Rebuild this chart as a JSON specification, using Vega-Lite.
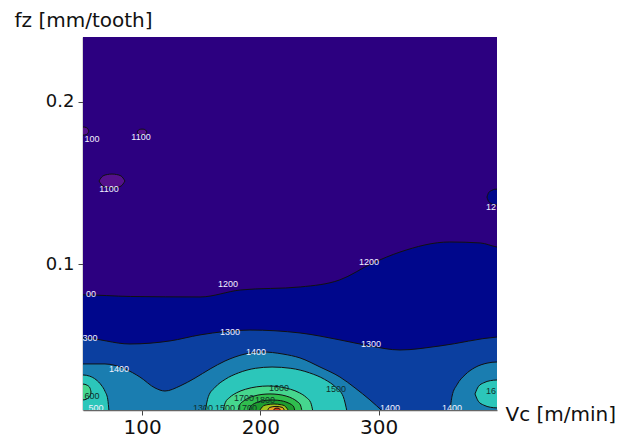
{
  "$schema": "https://vega.github.io/schema/vega-lite/v6.json",
  "width": 414,
  "height": 373,
  "autosize": {"type": "none"},
  "padding": {"left": 83, "top": 37, "right": 131, "bottom": 31},
  "background": "white",
  "view": {"stroke": null},
  "config": {
    "font": "DejaVu Sans",
    "axis": {
      "grid": false,
      "domainColor": "#666666",
      "domainWidth": 1.5,
      "tickColor": "#444444",
      "tickSize": 5,
      "labelFont": "DejaVu Sans",
      "labelFontSize": 20,
      "labelColor": "#111111",
      "titleFont": "DejaVu Sans",
      "titleFontSize": 20,
      "titleFontWeight": "normal",
      "titleColor": "#111111"
    }
  },
  "datasets": {
    "regions": [
      {"lvl": "1100", "part": "a", "vc": 48, "fz": 0.241, "fz2": 0.009},
      {"lvl": "1100", "part": "a", "vc": 402, "fz": 0.241, "fz2": 0.009},

      {"lvl": "1000", "part": "a", "vc": 48, "fz": 0.1845, "fz2": 0.1795},
      {"lvl": "1000", "part": "a", "vc": 50, "fz": 0.1845, "fz2": 0.1795},
      {"lvl": "1000", "part": "a", "vc": 52.5, "fz": 0.1842, "fz2": 0.1798},
      {"lvl": "1000", "part": "a", "vc": 54, "fz": 0.1835, "fz2": 0.1805},
      {"lvl": "1000", "part": "a", "vc": 55, "fz": 0.182, "fz2": 0.182},
      {"lvl": "1000", "part": "b", "vc": 95.7, "fz": 0.1814, "fz2": 0.1814},
      {"lvl": "1000", "part": "b", "vc": 97.0, "fz": 0.1827, "fz2": 0.1801},
      {"lvl": "1000", "part": "b", "vc": 98.4, "fz": 0.1831, "fz2": 0.1797},
      {"lvl": "1000", "part": "b", "vc": 99.9, "fz": 0.1832, "fz2": 0.1796},
      {"lvl": "1000", "part": "b", "vc": 101.4, "fz": 0.1831, "fz2": 0.1797},
      {"lvl": "1000", "part": "b", "vc": 102.8, "fz": 0.1827, "fz2": 0.1801},
      {"lvl": "1000", "part": "b", "vc": 104.1, "fz": 0.1814, "fz2": 0.1814},
      {"lvl": "1000", "part": "c", "vc": 63.5, "fz": 0.1512, "fz2": 0.1512},
      {"lvl": "1000", "part": "c", "vc": 66.8, "fz": 0.1543, "fz2": 0.1481},
      {"lvl": "1000", "part": "c", "vc": 70.6, "fz": 0.1552, "fz2": 0.1472},
      {"lvl": "1000", "part": "c", "vc": 74.5, "fz": 0.1555, "fz2": 0.1469},
      {"lvl": "1000", "part": "c", "vc": 78.4, "fz": 0.1552, "fz2": 0.1472},
      {"lvl": "1000", "part": "c", "vc": 82.2, "fz": 0.1543, "fz2": 0.1481},
      {"lvl": "1000", "part": "c", "vc": 85.5, "fz": 0.1512, "fz2": 0.1512},

      {"lvl": "1200", "part": "m", "vc": 48, "fz": 0.081, "fz2": 0.009},
      {"lvl": "1200", "part": "m", "vc": 50, "fz": 0.081, "fz2": 0.009},
      {"lvl": "1200", "part": "m", "vc": 90, "fz": 0.080, "fz2": 0.009},
      {"lvl": "1200", "part": "m", "vc": 149, "fz": 0.0797, "fz2": 0.009},
      {"lvl": "1200", "part": "m", "vc": 183, "fz": 0.084, "fz2": 0.009},
      {"lvl": "1200", "part": "m", "vc": 234, "fz": 0.0859, "fz2": 0.009},
      {"lvl": "1200", "part": "m", "vc": 267, "fz": 0.0902, "fz2": 0.009},
      {"lvl": "1200", "part": "m", "vc": 295, "fz": 0.1006, "fz2": 0.009},
      {"lvl": "1200", "part": "m", "vc": 318, "fz": 0.1074, "fz2": 0.009},
      {"lvl": "1200", "part": "m", "vc": 360, "fz": 0.1136, "fz2": 0.009},
      {"lvl": "1200", "part": "m", "vc": 386, "fz": 0.113, "fz2": 0.009},
      {"lvl": "1200", "part": "m", "vc": 400, "fz": 0.1105, "fz2": 0.009},
      {"lvl": "1200", "part": "m", "vc": 402, "fz": 0.1103, "fz2": 0.009},
      {"lvl": "1200", "part": "t", "vc": 391.5, "fz": 0.1413, "fz2": 0.1413},
      {"lvl": "1200", "part": "t", "vc": 393, "fz": 0.1441, "fz2": 0.1385},
      {"lvl": "1200", "part": "t", "vc": 395.8, "fz": 0.1455, "fz2": 0.1371},
      {"lvl": "1200", "part": "t", "vc": 398, "fz": 0.1461, "fz2": 0.1365},
      {"lvl": "1200", "part": "t", "vc": 400, "fz": 0.1462, "fz2": 0.1364},
      {"lvl": "1200", "part": "t", "vc": 402, "fz": 0.1462, "fz2": 0.1364},

      {"lvl": "1300", "part": "m", "vc": 48, "fz": 0.0544, "fz2": 0.009},
      {"lvl": "1300", "part": "m", "vc": 50, "fz": 0.0544, "fz2": 0.009},
      {"lvl": "1300", "part": "m", "vc": 89.7, "fz": 0.0507, "fz2": 0.009},
      {"lvl": "1300", "part": "m", "vc": 123.6, "fz": 0.0526, "fz2": 0.009},
      {"lvl": "1300", "part": "m", "vc": 148.9, "fz": 0.0563, "fz2": 0.009},
      {"lvl": "1300", "part": "m", "vc": 191.2, "fz": 0.0593, "fz2": 0.009},
      {"lvl": "1300", "part": "m", "vc": 233.5, "fz": 0.0575, "fz2": 0.009},
      {"lvl": "1300", "part": "m", "vc": 267.3, "fz": 0.0532, "fz2": 0.009},
      {"lvl": "1300", "part": "m", "vc": 292.6, "fz": 0.0495, "fz2": 0.009},
      {"lvl": "1300", "part": "m", "vc": 318, "fz": 0.047, "fz2": 0.009},
      {"lvl": "1300", "part": "m", "vc": 351.8, "fz": 0.0495, "fz2": 0.009},
      {"lvl": "1300", "part": "m", "vc": 400, "fz": 0.055, "fz2": 0.009},
      {"lvl": "1300", "part": "m", "vc": 402, "fz": 0.0551, "fz2": 0.009},

      {"lvl": "1400", "part": "m", "vc": 48, "fz": 0.0384, "fz2": 0.009},
      {"lvl": "1400", "part": "m", "vc": 50, "fz": 0.0384, "fz2": 0.009},
      {"lvl": "1400", "part": "m", "vc": 68.6, "fz": 0.0384, "fz2": 0.009},
      {"lvl": "1400", "part": "m", "vc": 85.5, "fz": 0.0353, "fz2": 0.009},
      {"lvl": "1400", "part": "m", "vc": 98.2, "fz": 0.0303, "fz2": 0.009},
      {"lvl": "1400", "part": "m", "vc": 110.9, "fz": 0.0236, "fz2": 0.009},
      {"lvl": "1400", "part": "m", "vc": 119.3, "fz": 0.0217, "fz2": 0.009},
      {"lvl": "1400", "part": "m", "vc": 132, "fz": 0.0248, "fz2": 0.009},
      {"lvl": "1400", "part": "m", "vc": 144.7, "fz": 0.0297, "fz2": 0.009},
      {"lvl": "1400", "part": "m", "vc": 157.4, "fz": 0.0353, "fz2": 0.009},
      {"lvl": "1400", "part": "m", "vc": 170, "fz": 0.0402, "fz2": 0.009},
      {"lvl": "1400", "part": "m", "vc": 186.9, "fz": 0.0445, "fz2": 0.009},
      {"lvl": "1400", "part": "m", "vc": 201.3, "fz": 0.0458, "fz2": 0.009},
      {"lvl": "1400", "part": "m", "vc": 219.1, "fz": 0.0445, "fz2": 0.009},
      {"lvl": "1400", "part": "m", "vc": 233.5, "fz": 0.0421, "fz2": 0.009},
      {"lvl": "1400", "part": "m", "vc": 250.4, "fz": 0.0365, "fz2": 0.009},
      {"lvl": "1400", "part": "m", "vc": 267.3, "fz": 0.0303, "fz2": 0.009},
      {"lvl": "1400", "part": "m", "vc": 280, "fz": 0.0236, "fz2": 0.009},
      {"lvl": "1400", "part": "m", "vc": 292.6, "fz": 0.0162, "fz2": 0.009},
      {"lvl": "1400", "part": "m", "vc": 303.6, "fz": 0.009, "fz2": 0.009},
      {"lvl": "1400", "part": "r", "vc": 360.3, "fz": 0.009, "fz2": 0.009},
      {"lvl": "1400", "part": "r", "vc": 362, "fz": 0.0186, "fz2": 0.009},
      {"lvl": "1400", "part": "r", "vc": 366.2, "fz": 0.0256, "fz2": 0.009},
      {"lvl": "1400", "part": "r", "vc": 373, "fz": 0.0317, "fz2": 0.009},
      {"lvl": "1400", "part": "r", "vc": 381.4, "fz": 0.0362, "fz2": 0.009},
      {"lvl": "1400", "part": "r", "vc": 391.6, "fz": 0.0389, "fz2": 0.009},
      {"lvl": "1400", "part": "r", "vc": 400, "fz": 0.0396, "fz2": 0.009},
      {"lvl": "1400", "part": "r", "vc": 402, "fz": 0.0396, "fz2": 0.009},

      {"lvl": "1500", "part": "c", "vc": 153.2, "fz": 0.009, "fz2": 0.009},
      {"lvl": "1500", "part": "c", "vc": 156, "fz": 0.0183, "fz2": 0.009},
      {"lvl": "1500", "part": "c", "vc": 161.7, "fz": 0.024, "fz2": 0.009},
      {"lvl": "1500", "part": "c", "vc": 170.2, "fz": 0.0289, "fz2": 0.009},
      {"lvl": "1500", "part": "c", "vc": 181.5, "fz": 0.0329, "fz2": 0.009},
      {"lvl": "1500", "part": "c", "vc": 195.7, "fz": 0.0357, "fz2": 0.009},
      {"lvl": "1500", "part": "c", "vc": 209.8, "fz": 0.0365, "fz2": 0.009},
      {"lvl": "1500", "part": "c", "vc": 225.7, "fz": 0.0357, "fz2": 0.009},
      {"lvl": "1500", "part": "c", "vc": 241.5, "fz": 0.0329, "fz2": 0.009},
      {"lvl": "1500", "part": "c", "vc": 254.2, "fz": 0.0289, "fz2": 0.009},
      {"lvl": "1500", "part": "c", "vc": 263.7, "fz": 0.024, "fz2": 0.009},
      {"lvl": "1500", "part": "c", "vc": 270, "fz": 0.0183, "fz2": 0.009},
      {"lvl": "1500", "part": "c", "vc": 273.2, "fz": 0.009, "fz2": 0.009},
      {"lvl": "1500", "part": "l", "vc": 48, "fz": 0.0316, "fz2": 0.009},
      {"lvl": "1500", "part": "l", "vc": 50, "fz": 0.0316, "fz2": 0.009},
      {"lvl": "1500", "part": "l", "vc": 55.5, "fz": 0.0309, "fz2": 0.009},
      {"lvl": "1500", "part": "l", "vc": 61, "fz": 0.0287, "fz2": 0.009},
      {"lvl": "1500", "part": "l", "vc": 65.4, "fz": 0.0254, "fz2": 0.009},
      {"lvl": "1500", "part": "l", "vc": 68.7, "fz": 0.0214, "fz2": 0.009},
      {"lvl": "1500", "part": "l", "vc": 70.9, "fz": 0.0167, "fz2": 0.009},
      {"lvl": "1500", "part": "l", "vc": 72, "fz": 0.009, "fz2": 0.009},
      {"lvl": "1500", "part": "r", "vc": 381.4, "fz": 0.0199, "fz2": 0.0199},
      {"lvl": "1500", "part": "r", "vc": 384.2, "fz": 0.0244, "fz2": 0.0154},
      {"lvl": "1500", "part": "r", "vc": 388.8, "fz": 0.0268, "fz2": 0.013},
      {"lvl": "1500", "part": "r", "vc": 394.4, "fz": 0.0281, "fz2": 0.0117},
      {"lvl": "1500", "part": "r", "vc": 400, "fz": 0.0285, "fz2": 0.0113},
      {"lvl": "1500", "part": "r", "vc": 402, "fz": 0.0285, "fz2": 0.0113},

      {"lvl": "1600", "part": "c", "vc": 168.4, "fz": 0.009, "fz2": 0.009},
      {"lvl": "1600", "part": "c", "vc": 170.3, "fz": 0.0146, "fz2": 0.009},
      {"lvl": "1600", "part": "c", "vc": 174.1, "fz": 0.0178, "fz2": 0.009},
      {"lvl": "1600", "part": "c", "vc": 179.8, "fz": 0.0206, "fz2": 0.009},
      {"lvl": "1600", "part": "c", "vc": 187.4, "fz": 0.0228, "fz2": 0.009},
      {"lvl": "1600", "part": "c", "vc": 196.9, "fz": 0.0243, "fz2": 0.009},
      {"lvl": "1600", "part": "c", "vc": 206.4, "fz": 0.0248, "fz2": 0.009},
      {"lvl": "1600", "part": "c", "vc": 215.9, "fz": 0.0243, "fz2": 0.009},
      {"lvl": "1600", "part": "c", "vc": 225.4, "fz": 0.0228, "fz2": 0.009},
      {"lvl": "1600", "part": "c", "vc": 233, "fz": 0.0206, "fz2": 0.009},
      {"lvl": "1600", "part": "c", "vc": 238.7, "fz": 0.0178, "fz2": 0.009},
      {"lvl": "1600", "part": "c", "vc": 242.5, "fz": 0.0146, "fz2": 0.009},
      {"lvl": "1600", "part": "c", "vc": 244.4, "fz": 0.009, "fz2": 0.009},
      {"lvl": "1600", "part": "l", "vc": 48, "fz": 0.026, "fz2": 0.0162},
      {"lvl": "1600", "part": "l", "vc": 50, "fz": 0.026, "fz2": 0.0162},
      {"lvl": "1600", "part": "l", "vc": 53.4, "fz": 0.0253, "fz2": 0.0169},
      {"lvl": "1600", "part": "l", "vc": 55.8, "fz": 0.0237, "fz2": 0.0185},
      {"lvl": "1600", "part": "l", "vc": 56.8, "fz": 0.0211, "fz2": 0.0211},

      {"lvl": "1700", "part": "c", "vc": 181, "fz": 0.009, "fz2": 0.009},
      {"lvl": "1700", "part": "c", "vc": 182.4, "fz": 0.0131, "fz2": 0.009},
      {"lvl": "1700", "part": "c", "vc": 185.1, "fz": 0.0152, "fz2": 0.009},
      {"lvl": "1700", "part": "c", "vc": 189.1, "fz": 0.0171, "fz2": 0.009},
      {"lvl": "1700", "part": "c", "vc": 194.6, "fz": 0.0186, "fz2": 0.009},
      {"lvl": "1700", "part": "c", "vc": 201.3, "fz": 0.0196, "fz2": 0.009},
      {"lvl": "1700", "part": "c", "vc": 208.1, "fz": 0.0199, "fz2": 0.009},
      {"lvl": "1700", "part": "c", "vc": 214.9, "fz": 0.0196, "fz2": 0.009},
      {"lvl": "1700", "part": "c", "vc": 221.7, "fz": 0.0186, "fz2": 0.009},
      {"lvl": "1700", "part": "c", "vc": 227.1, "fz": 0.0171, "fz2": 0.009},
      {"lvl": "1700", "part": "c", "vc": 231.1, "fz": 0.0152, "fz2": 0.009},
      {"lvl": "1700", "part": "c", "vc": 233.8, "fz": 0.0131, "fz2": 0.009},
      {"lvl": "1700", "part": "c", "vc": 235.2, "fz": 0.009, "fz2": 0.009},

      {"lvl": "1800", "part": "c", "vc": 190.4, "fz": 0.009, "fz2": 0.009},
      {"lvl": "1800", "part": "c", "vc": 191.4, "fz": 0.0119, "fz2": 0.009},
      {"lvl": "1800", "part": "c", "vc": 193.3, "fz": 0.0133, "fz2": 0.009},
      {"lvl": "1800", "part": "c", "vc": 196.2, "fz": 0.0144, "fz2": 0.009},
      {"lvl": "1800", "part": "c", "vc": 200.1, "fz": 0.0154, "fz2": 0.009},
      {"lvl": "1800", "part": "c", "vc": 205, "fz": 0.016, "fz2": 0.009},
      {"lvl": "1800", "part": "c", "vc": 209.8, "fz": 0.0162, "fz2": 0.009},
      {"lvl": "1800", "part": "c", "vc": 214.7, "fz": 0.016, "fz2": 0.009},
      {"lvl": "1800", "part": "c", "vc": 219.5, "fz": 0.0154, "fz2": 0.009},
      {"lvl": "1800", "part": "c", "vc": 223.4, "fz": 0.0144, "fz2": 0.009},
      {"lvl": "1800", "part": "c", "vc": 226.3, "fz": 0.0133, "fz2": 0.009},
      {"lvl": "1800", "part": "c", "vc": 228.2, "fz": 0.0119, "fz2": 0.009},
      {"lvl": "1800", "part": "c", "vc": 229.2, "fz": 0.009, "fz2": 0.009},

      {"lvl": "1900", "part": "c", "vc": 198.8, "fz": 0.009, "fz2": 0.009},
      {"lvl": "1900", "part": "c", "vc": 202.6, "fz": 0.0126, "fz2": 0.009},
      {"lvl": "1900", "part": "c", "vc": 205.2, "fz": 0.0132, "fz2": 0.009},
      {"lvl": "1900", "part": "c", "vc": 211.5, "fz": 0.0137, "fz2": 0.009},
      {"lvl": "1900", "part": "c", "vc": 217.8, "fz": 0.0132, "fz2": 0.009},
      {"lvl": "1900", "part": "c", "vc": 220.4, "fz": 0.0126, "fz2": 0.009},
      {"lvl": "1900", "part": "c", "vc": 224.2, "fz": 0.009, "fz2": 0.009},

      {"lvl": "2000", "part": "c", "vc": 205.6, "fz": 0.009, "fz2": 0.009},
      {"lvl": "2000", "part": "c", "vc": 207.9, "fz": 0.0116, "fz2": 0.009},
      {"lvl": "2000", "part": "c", "vc": 213.2, "fz": 0.0122, "fz2": 0.009},
      {"lvl": "2000", "part": "c", "vc": 218.5, "fz": 0.0116, "fz2": 0.009},
      {"lvl": "2000", "part": "c", "vc": 220.8, "fz": 0.009, "fz2": 0.009},

      {"lvl": "2100", "part": "c", "vc": 210.6, "fz": 0.009, "fz2": 0.009},
      {"lvl": "2100", "part": "c", "vc": 212.3, "fz": 0.011, "fz2": 0.009},
      {"lvl": "2100", "part": "c", "vc": 214, "fz": 0.0112, "fz2": 0.009},
      {"lvl": "2100", "part": "c", "vc": 215.7, "fz": 0.011, "fz2": 0.009},
      {"lvl": "2100", "part": "c", "vc": 217.4, "fz": 0.009, "fz2": 0.009}
    ],
    "labels": [
      {"t": "100", "vc": 57.6, "fz": 0.1771, "band": 1100},
      {"t": "1100", "vc": 99.0, "fz": 0.1783, "band": 1100},
      {"t": "1100", "vc": 72.0, "fz": 0.1463, "band": 1100},
      {"t": "00", "vc": 56.8, "fz": 0.0815, "band": 1200},
      {"t": "300", "vc": 55.9, "fz": 0.0544, "band": 1300},
      {"t": "1200", "vc": 172.6, "fz": 0.0877, "band": 1200},
      {"t": "1200", "vc": 291.8, "fz": 0.1013, "band": 1200},
      {"t": "12", "vc": 394.9, "fz": 0.1352, "band": 1200},
      {"t": "1300", "vc": 174.3, "fz": 0.0581, "band": 1300},
      {"t": "1300", "vc": 293.5, "fz": 0.0507, "band": 1300},
      {"t": "1400", "vc": 80.4, "fz": 0.0353, "band": 1400},
      {"t": "1400", "vc": 196.3, "fz": 0.0458, "band": 1400},
      {"t": "1400", "vc": 309.5, "fz": 0.0112, "band": 1400},
      {"t": "1400", "vc": 362.0, "fz": 0.0112, "band": 1400},
      {"t": "1500", "vc": 263.9, "fz": 0.0230, "band": 1500},
      {"t": "1600", "vc": 215.7, "fz": 0.0236, "band": 1600},
      {"t": "1700", "vc": 186.1, "fz": 0.0174, "band": 1700},
      {"t": "1800", "vc": 203.9, "fz": 0.0162, "band": 1800},
      {"t": "1300", "vc": 151.4, "fz": 0.0112, "band": 1500},
      {"t": "1500", "vc": 170.0, "fz": 0.0112, "band": 1600},
      {"t": "1700", "vc": 188.6, "fz": 0.0112, "band": 1700},
      {"t": "600", "vc": 57.6, "fz": 0.0186, "band": 1600},
      {"t": "500", "vc": 61.0, "fz": 0.0112, "band": 1400},
      {"t": "16", "vc": 394.9, "fz": 0.0217, "band": 1600}
    ]
  },
  "layer": [
    {
      "data": {"name": "regions"},
      "encoding": {
        "x": {
          "field": "vc", "type": "quantitative",
          "scale": {"domain": [50, 400], "nice": false, "zero": false},
          "axis": {
            "values": [100, 200, 300],
            "labelPadding": 2,
            "title": "Vc [m/min]",
            "titleAnchor": "start",
            "titleAlign": "left",
            "titleBaseline": "alphabetic",
            "titleX": 422,
            "titleY": 10
          }
        },
        "y": {
          "field": "fz", "type": "quantitative", "stack": null,
          "scale": {"domain": [0.01, 0.24], "nice": false, "zero": false},
          "axis": {
            "values": [0.1, 0.2],
            "format": ".1f",
            "labelFontSize": 18,
            "labelPadding": 4,
            "title": "fz [mm/tooth]",
            "titleAngle": 0,
            "titleAnchor": "start",
            "titleAlign": "left",
            "titleBaseline": "alphabetic",
            "titleX": -69,
            "titleY": -11
          }
        },
        "y2": {"field": "fz2"},
        "detail": {"field": "part"},
        "color": {
          "field": "lvl", "type": "nominal", "legend": null,
          "scale": {
            "domain": ["1000", "1100", "1200", "1300", "1400", "1500", "1600", "1700", "1800", "1900", "2000", "2100"],
            "range": ["#54108c", "#2c0080", "#00078c", "#0b3fa0", "#1a7db0", "#2cc6ba", "#46d68e", "#30be4e", "#1e9c2e", "#a2c61e", "#eba020", "#d8341a"]
          }
        }
      },
      "layer": [
        {"transform": [{"filter": "datum.lvl === '1100'"}], "mark": {"type": "area", "clip": true}},
        {"transform": [{"filter": "datum.lvl === '1000'"}], "mark": {"type": "area", "clip": true, "interpolate": "monotone", "stroke": "#111111", "strokeWidth": 1}},
        {"transform": [{"filter": "datum.lvl === '1200'"}], "mark": {"type": "area", "clip": true, "interpolate": "monotone", "stroke": "#111111", "strokeWidth": 1}},
        {"transform": [{"filter": "datum.lvl === '1300'"}], "mark": {"type": "area", "clip": true, "interpolate": "monotone", "stroke": "#111111", "strokeWidth": 1}},
        {"transform": [{"filter": "datum.lvl === '1400'"}], "mark": {"type": "area", "clip": true, "interpolate": "monotone", "stroke": "#111111", "strokeWidth": 1}},
        {"transform": [{"filter": "datum.lvl === '1500'"}], "mark": {"type": "area", "clip": true, "interpolate": "monotone", "stroke": "#111111", "strokeWidth": 1}},
        {"transform": [{"filter": "datum.lvl === '1600'"}], "mark": {"type": "area", "clip": true, "interpolate": "monotone", "stroke": "#111111", "strokeWidth": 1}},
        {"transform": [{"filter": "datum.lvl === '1700'"}], "mark": {"type": "area", "clip": true, "interpolate": "monotone", "stroke": "#111111", "strokeWidth": 1}},
        {"transform": [{"filter": "datum.lvl === '1800'"}], "mark": {"type": "area", "clip": true, "interpolate": "monotone", "stroke": "#111111", "strokeWidth": 1}},
        {"transform": [{"filter": "datum.lvl === '1900'"}], "mark": {"type": "area", "clip": true, "interpolate": "monotone", "stroke": "#111111", "strokeWidth": 1}},
        {"transform": [{"filter": "datum.lvl === '2000'"}], "mark": {"type": "area", "clip": true, "interpolate": "monotone", "stroke": "#111111", "strokeWidth": 1}},
        {"transform": [{"filter": "datum.lvl === '2100'"}], "mark": {"type": "area", "clip": true, "interpolate": "monotone", "stroke": "#111111", "strokeWidth": 1}}
      ]
    },
    {
      "data": {"name": "labels"},
      "mark": {"type": "text", "clip": true, "fontSize": 9, "font": "Liberation Sans", "baseline": "middle", "align": "center"},
      "encoding": {
        "x": {"field": "vc", "type": "quantitative"},
        "y": {"field": "fz", "type": "quantitative"},
        "text": {"field": "t"},
        "color": {
          "condition": {"test": "datum.band >= 1500", "value": "#10302c"},
          "value": "#f2f2ff"
        }
      }
    }
  ]
}
